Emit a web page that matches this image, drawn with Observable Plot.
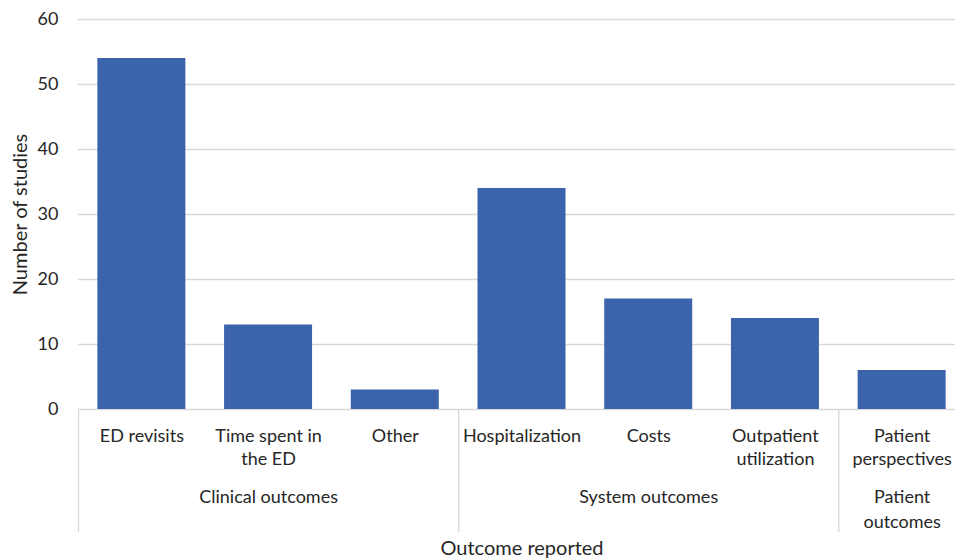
<!DOCTYPE html>
<html>
<head>
<meta charset="utf-8">
<script src="https://cdn.jsdelivr.net/npm/d3@7"></script>
<script src="https://cdn.jsdelivr.net/npm/@observablehq/plot@0.6"></script>
<style>
  html, body { margin: 0; padding: 0; background: #fff; }
</style>
</head>
<body>
<div id="chart"></div>
<script>
// Outcomes reported across the included studies
const categories = [
  "ED revisits",
  "Time spent in\nthe ED",
  "Other",
  "Hospitalization",
  "Costs",
  "Outpatient\nutilization",
  "Patient\nperspectives"
];
const studies = [54, 13, 3, 34, 17, 14, 6];

const groupNames = ["Clinical outcomes", "System outcomes", "Patient\noutcomes"];
const groupMembers = [
  ["ED revisits", "Time spent in\nthe ED", "Other"],
  ["Hospitalization", "Costs", "Outpatient\nutilization"],
  ["Patient\nperspectives"]
];

const yTicks = [0, 10, 20, 30, 40, 50, 60];
const yLabel = "Number of studies";
const xLabel = "Outcome reported";

const rows = categories.map((c, i) => ({category: c, value: studies[i]}));
const groups = groupNames.map((g, i) => ({
  name: g,
  first: groupMembers[i][0],
  middle: groupMembers[i][Math.floor(groupMembers[i].length / 2)]
}));

const W = 955, H = 560;
const xRange = [78, 965];
const step = (xRange[1] - xRange[0]) / categories.length;
const barWidth = 88;
const inset = (step - barWidth) / 2;
const grey = "#d9d9d9";
const ink = "#262626";

const chart = Plot.plot({
  width: W,
  height: H,
  marginLeft: 78,
  marginRight: 0,
  marginTop: 19,
  marginBottom: 151,
  style: {fontFamily: "Lato, sans-serif", fontSize: "18px", color: ink, background: "#fff"},
  x: {type: "band", domain: categories, range: xRange, padding: 0, round: false, axis: null},
  y: {domain: [0, 60], axis: null},
  marks: [
    Plot.gridY(yTicks.filter(t => t > 0), {stroke: grey, strokeOpacity: 1, strokeWidth: 1.3}),
    Plot.ruleY([0], {stroke: grey, strokeWidth: 1.3}),
    Plot.axisY({ticks: yTicks, tickSize: 0, tickPadding: 20, label: null, fontSize: 18}),
    Plot.barY(rows, {x: "category", y: "value", fill: "#3c64ad", insetLeft: inset, insetRight: inset}),
    // group separators running down through the category labels
    Plot.ruleX(groups, {x: "first", y1: 0, y2: 0, insetBottom: -123, dx: -step / 2, stroke: grey, strokeWidth: 1.3}),
    // category labels
    Plot.text(categories, {x: d => d, frameAnchor: "bottom", dy: 16, lineAnchor: "top", lineHeight: 1.28, fill: ink, fontSize: 18}),
    // group labels
    Plot.text(groups, {x: "middle", text: "name", frameAnchor: "bottom", dy: 76, lineAnchor: "top", lineHeight: 1.37, fill: ink, fontSize: 18}),
    // axis titles
    Plot.text([xLabel], {frameAnchor: "bottom", dx: 5, dy: 131, lineAnchor: "top", fill: ink, fontSize: 20}),
    Plot.text([yLabel], {frameAnchor: "left", dx: -58, rotate: -90, textAnchor: "middle", fill: ink, fontSize: 20})
  ]
});

document.getElementById("chart").appendChild(chart);
</script>
</body>
</html>
